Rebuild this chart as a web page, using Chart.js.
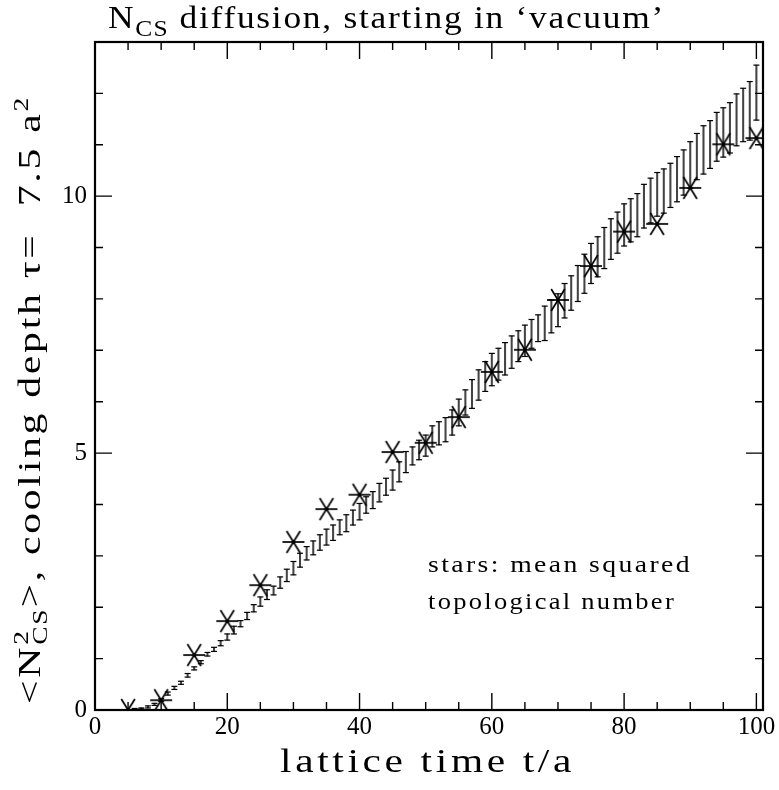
<!DOCTYPE html>
<html><head><meta charset="utf-8">
<script src="https://cdn.jsdelivr.net/npm/chart.js@4"></script>
<style>html,body{margin:0;padding:0;background:#fff}canvas{display:block}</style>
</head><body>
<canvas id="c" width="779" height="790"></canvas>
<script>
// ---- data ----
const starT  = [5,10,15,20,25,30,35,40,45,50,55,60,65,70,75,80,85,90,95,100];
const starN2 = [0.00,0.19,1.07,1.73,2.43,3.27,3.91,4.19,5.02,5.20,5.70,6.58,7.01,7.98,8.64,9.31,9.46,10.16,11.01,11.13];

const errT  = [6,7,8,9,10,11,12,13,14,15,16,17,18,19,20,21,22,23,24,25,26,27,28,29,30,31,32,33,34,35,36,37,38,39,40,41,42,43,44,45,46,47,48,49,50,51,52,53,54,55,56,57,58,59,60,61,62,63,64,65,66,67,68,69,70,71,72,73,74,75,76,77,78,79,80,81,82,83,84,85,86,87,88,89,90,91,92,93,94,95,96,97,98,99,100];
const errLo = [0.01,0.02,0.04,0.09,0.17,0.29,0.40,0.50,0.64,0.78,0.90,1.05,1.14,1.25,1.36,1.48,1.62,1.76,1.91,2.02,2.15,2.24,2.37,2.50,2.63,2.78,2.92,3.02,3.11,3.21,3.30,3.41,3.47,3.60,3.70,3.83,3.92,4.05,4.18,4.28,4.44,4.62,4.77,4.87,4.94,5.12,5.16,5.22,5.35,5.53,5.74,5.87,6.03,6.20,6.31,6.42,6.52,6.65,6.78,6.88,7.04,7.17,7.19,7.34,7.46,7.63,7.78,7.95,8.11,8.30,8.43,8.59,8.77,8.89,9.03,9.11,9.21,9.38,9.48,9.61,9.67,9.78,9.89,10.02,10.15,10.32,10.43,10.54,10.68,10.76,10.84,10.98,11.06,11.09,11.48];
const errHi = [0.03,0.04,0.08,0.13,0.22,0.35,0.46,0.56,0.71,0.84,0.96,1.12,1.22,1.35,1.48,1.63,1.74,1.90,2.05,2.20,2.34,2.41,2.59,2.74,2.89,3.05,3.18,3.29,3.41,3.52,3.60,3.70,3.80,3.89,4.02,4.15,4.25,4.41,4.51,4.67,4.83,5.03,5.12,5.25,5.35,5.53,5.61,5.69,5.84,6.05,6.23,6.43,6.62,6.78,6.94,7.04,7.15,7.28,7.38,7.49,7.60,7.69,7.86,7.98,8.10,8.30,8.45,8.65,8.87,9.08,9.21,9.39,9.56,9.69,9.85,9.95,10.05,10.23,10.35,10.46,10.53,10.64,10.77,10.90,11.06,11.22,11.37,11.47,11.63,11.72,11.82,11.99,12.10,12.23,12.55];

const xTickLabels = [0,20,40,60,80,100];
const yTickLabels = [0,5,10];
const xMinorTicks = [5,10,15,20,25,30,35,40,45,50,55,60,65,70,75,80,85,90,95,100];
const xMajorTicks = [20,40,60,80,100];
const yMinorTicks = [1,2,3,4,5,6,7,8,9,10,11,12];
const yMajorTicks = [5,10];

const titleText = ['N', 'CS', ' diffusion, starting in \u2018vacuum\u2019'];
const xTitleText = 'lattice time t/a';
const yTitleText = ['<N', '2', 'CS', '>, cooling depth \u03c4=  7.5 a', '2'];
const noteLines = ['stars: mean squared', 'topological number'];

// ---- styling ----
const FONT = '"Liberation Serif", "DejaVu Serif", serif';

function makeStar() {
  const s = 28, c = document.createElement('canvas');
  c.width = s; c.height = s;
  const g = c.getContext('2d');
  g.strokeStyle = '#000'; g.lineWidth = 1.7; g.lineCap = 'butt';
  const cx = s / 2, cy = s / 2;
  const segs = [[11, 0], [6.8, 11], [-6.8, 11]];
  segs.forEach(([dx, dy]) => { g.beginPath(); g.moveTo(cx - dx, cy - dy); g.lineTo(cx + dx, cy + dy); g.stroke(); });
  g.fillStyle = '#000'; g.fillRect(cx - 1.5, cy - 1.5, 3, 3);
  return c;
}
const starImg = makeStar();

// measure a list of runs; a run with stackNext shares its x slot with the following run
function measureRuns(ctx, runs, size, ls) {
  let w = 0, i = 0;
  const adv = [];
  while (i < runs.length) {
    const r = runs[i];
    ctx.font = (size * r.s) + 'px ' + FONT;
    ctx.letterSpacing = (ls * r.s) + 'px';
    let rw = ctx.measureText(r.t).width;
    if (r.stackNext) {
      const r2 = runs[i + 1];
      ctx.font = (size * r2.s) + 'px ' + FONT;
      ctx.letterSpacing = (ls * r2.s) + 'px';
      rw = Math.max(rw, ctx.measureText(r2.t).width);
      adv.push(0, rw); w += rw; i += 2; continue;
    }
    adv.push(rw); w += rw; i++;
  }
  return {w, adv};
}
function drawFit(ctx, runs, size, ls, x, y, target, sy) {
  const m = measureRuns(ctx, runs, size, ls);
  const sx = target ? target / m.w : 1;
  ctx.save();
  ctx.translate(x, y);
  ctx.scale(sx, sy);
  let cx = 0;
  runs.forEach((r, i) => {
    ctx.font = (size * r.s) + 'px ' + FONT;
    ctx.letterSpacing = (ls * r.s) + 'px';
    ctx.fillText(r.t, cx, size * r.dy);
    cx += m.adv[i];
  });
  ctx.restore();
  return sx;
}

const textPlugin = {
  id: 'texts',
  afterDraw(chart) {
    const ctx = chart.ctx;
    ctx.save();
    ctx.fillStyle = '#000';
    ctx.textBaseline = 'alphabetic';
    ctx.textAlign = 'left';
    // title
    drawFit(ctx, [{t: titleText[0], s: 1, dy: 0}, {t: titleText[1], s: 0.72, dy: 0.24}, {t: titleText[2], s: 1, dy: 0}],
            31, 1.5, 108, 28, 557, 1.05);
    // x title
    drawFit(ctx, [{t: xTitleText, s: 1, dy: 0}], 34, 3, 280, 772, 295, 1.0);
    // y title (rotated)
    ctx.save();
    ctx.translate(40, 704);
    ctx.rotate(-Math.PI / 2);
    drawFit(ctx, [{t: yTitleText[0], s: 1, dy: 0}, {t: yTitleText[1], s: 0.66, dy: -0.4, stackNext: true},
                  {t: yTitleText[2], s: 0.66, dy: 0.24}, {t: yTitleText[3], s: 1, dy: 0}, {t: yTitleText[4], s: 0.66, dy: -0.4}],
            31, 2, 0, 0, 608, 1.0);
    ctx.restore();
    // annotation
    drawFit(ctx, [{t: noteLines[0], s: 1, dy: 0}], 23, 2, 428, 572, 264, 1.0);
    drawFit(ctx, [{t: noteLines[1], s: 1, dy: 0}], 23, 2, 428, 609, 248, 1.0);
    ctx.restore();
  }
};

const framePlugin = {
  id: 'frame',
  afterDatasetsDraw(chart) {
    const {ctx, chartArea: a, scales: {x, y}} = chart;
    ctx.save();
    ctx.strokeStyle = '#000';
    ctx.lineWidth = 1.4;
    ctx.beginPath();
    xMinorTicks.forEach(v => {
      const px = x.getPixelForValue(v);
      const L = xMajorTicks.includes(v) ? 17 : 8;
      ctx.moveTo(px, a.bottom); ctx.lineTo(px, a.bottom - L);
      ctx.moveTo(px, a.top); ctx.lineTo(px, a.top + L);
    });
    yMinorTicks.forEach(v => {
      const py = y.getPixelForValue(v);
      const L = yMajorTicks.includes(v) ? 17 : 8;
      ctx.moveTo(a.left, py); ctx.lineTo(a.left + L, py);
      ctx.moveTo(a.right, py); ctx.lineTo(a.right - L, py);
    });
    ctx.stroke();
    ctx.lineWidth = 2.2;
    ctx.strokeRect(a.left, a.top, a.right - a.left, a.bottom - a.top);
    ctx.restore();
  }
};

const barData = errT.map((t, i) => ({x: t, y: [errLo[i], errHi[i]]}));
const loCaps = errT.map((t, i) => ({x: t, y: errLo[i]}));
const hiCaps = errT.map((t, i) => ({x: t, y: errHi[i]}));
const stars = starT.map((t, i) => ({x: t, y: starN2[i]}));

new Chart(document.getElementById('c'), {
  type: 'bar',
  data: {
    datasets: [
      {type: 'scatter', data: stars, pointStyle: starImg, pointRadius: 11, order: 0, clip: 0},
      {type: 'scatter', data: hiCaps, pointStyle: 'line', pointRadius: 3, borderColor: '#000', borderWidth: 1.2, order: 1, clip: 0},
      {type: 'scatter', data: loCaps, pointStyle: 'line', pointRadius: 3, borderColor: '#000', borderWidth: 1.2, order: 1, clip: 0},
      {type: 'bar', data: barData, backgroundColor: '#444', borderWidth: 0, barThickness: 1.4, order: 2, clip: 0}
    ]
  },
  options: {
    responsive: false,
    animation: false,
    events: [],
    layout: {padding: {left: 0, right: 16, top: 42, bottom: 0}},
    plugins: {legend: {display: false}, tooltip: {enabled: false}, title: {display: false}},
    scales: {
      x: {
        type: 'linear', min: 0, max: 101, offset: false,
        grid: {display: false, drawTicks: false},
        border: {display: false},
        ticks: {includeBounds: false, color: '#000', font: {family: FONT, size: 25}, padding: 2, maxRotation: 0},
        afterBuildTicks: s => { s.ticks = xTickLabels.map(v => ({value: v})); },
        afterFit: s => { s.height = 80; s.paddingLeft = 0; s.paddingRight = 0; }
      },
      y: {
        type: 'linear', min: 0, max: 13,
        grid: {display: false, drawTicks: false},
        border: {display: false},
        ticks: {includeBounds: false, color: '#000', font: {family: FONT, size: 25}, padding: 8},
        afterBuildTicks: s => { s.ticks = yTickLabels.map(v => ({value: v})); },
        afterFit: s => { s.width = 95; s.paddingTop = 0; s.paddingBottom = 0; }
      }
    }
  },
  plugins: [framePlugin, textPlugin]
});
</script>
</body></html>
